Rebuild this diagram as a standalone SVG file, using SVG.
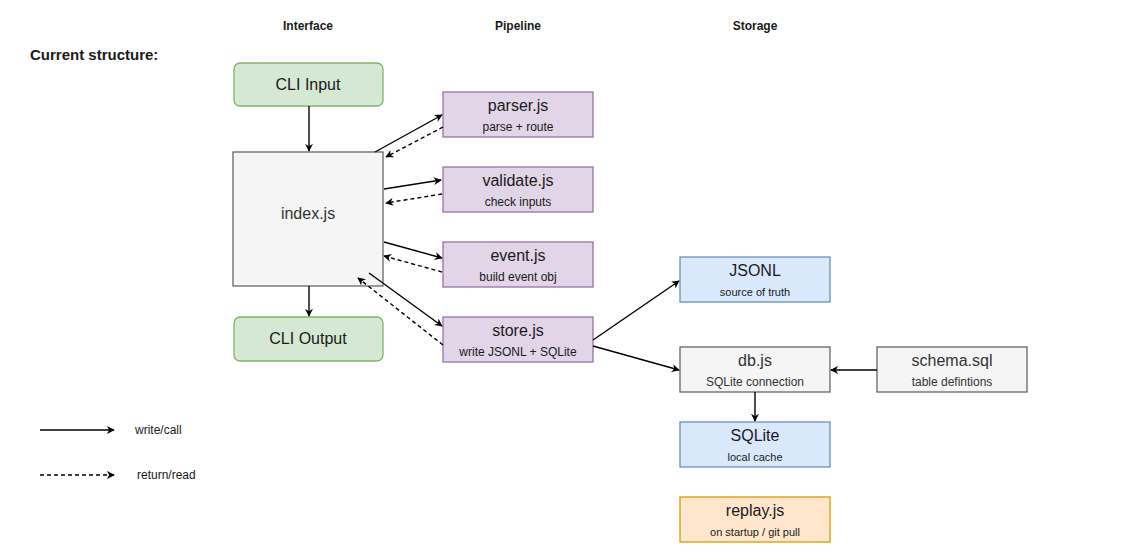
<svg xmlns="http://www.w3.org/2000/svg" width="1134" height="552" viewBox="0 0 1134 552">
<style>
text{font-family:"Liberation Sans",Arial,sans-serif;fill:#1a1a1a;text-anchor:middle}
.h{font-size:12px;font-weight:bold}
.t{font-size:16px}
.s{font-size:12px}
.g rect{fill:#d5e8d4;stroke:#82b366;stroke-width:1.3}
.p rect{fill:#e1d5e7;stroke:#9673a6;stroke-width:1.3}
.b rect{fill:#dae8fc;stroke:#6c8ebf;stroke-width:1.3}
.n rect{fill:#f5f5f5;stroke:#666;stroke-width:1.3}
.o rect{fill:#ffe6cc;stroke:#d79b00;stroke-width:1.3}
.c line{stroke:#000;stroke-width:1.4;marker-end:url(#a)}
.c .d{stroke-dasharray:4 3}
</style>
<defs><marker id="a" viewBox="0 0 10 10" refX="9" refY="5" markerWidth="8" markerHeight="8" orient="auto" markerUnits="userSpaceOnUse"><path d="M0,0 L10,5 L0,10 L3,5z" fill="#000"/></marker></defs>
<rect width="1134" height="552" fill="#fff"/>
<text class="h" x="308" y="30">Interface</text>
<text class="h" x="518" y="30">Pipeline</text>
<text class="h" x="755" y="30">Storage</text>
<text x="30" y="60" style="font-size:15px;font-weight:bold;text-anchor:start">Current structure:</text>
<g id="cli-input" class="g"><rect x="234" y="63" width="149" height="43" rx="6"/><text class="t" x="308" y="90">CLI Input</text></g>
<g id="index" class="n"><rect x="233" y="152" width="150" height="134"/><text class="t" x="308" y="219" style="fill:#333">index.js</text></g>
<g id="cli-output" class="g"><rect x="234" y="317" width="149" height="44" rx="6"/><text class="t" x="308" y="344">CLI Output</text></g>
<g id="parser" class="p"><rect x="443" y="92" width="150" height="45"/><text class="t" x="518" y="111">parser.js</text><text class="s" x="518" y="131">parse + route</text></g>
<g id="validate" class="p"><rect x="443" y="167" width="150" height="45"/><text class="t" x="518" y="186">validate.js</text><text class="s" x="518" y="206">check inputs</text></g>
<g id="event" class="p"><rect x="443" y="242" width="150" height="45"/><text class="t" x="518" y="261">event.js</text><text class="s" x="518" y="281">build event obj</text></g>
<g id="store" class="p"><rect x="443" y="317" width="150" height="45"/><text class="t" x="518" y="336">store.js</text><text class="s" x="518" y="356">write JSONL + SQLite</text></g>
<g id="jsonl" class="b"><rect x="680" y="257" width="150" height="45"/><text class="t" x="755" y="276">JSONL</text><text class="s" x="755" y="296" style="font-size:11px">source of truth</text></g>
<g id="db" class="n"><rect x="680" y="347" width="150" height="45"/><text class="t" x="755" y="366" style="fill:#333">db.js</text><text class="s" x="755" y="386" style="fill:#333">SQLite connection</text></g>
<g id="schema" class="n"><rect x="877" y="347" width="150" height="45"/><text class="t" x="952" y="366" style="fill:#333">schema.sql</text><text class="s" x="952" y="386" style="fill:#333">table defintions</text></g>
<g id="sqlite" class="b"><rect x="680" y="422" width="150" height="45"/><text class="t" x="755" y="441">SQLite</text><text class="s" x="755" y="461" style="font-size:11px">local cache</text></g>
<g id="replay" class="o"><rect x="680" y="497" width="150" height="45"/><text class="t" x="755" y="516">replay.js</text><text class="s" x="755" y="536" style="font-size:11px">on startup / git pull</text></g>
<g id="connectors" class="c">
<line x1="309" y1="106" x2="309" y2="151"/>
<line x1="309" y1="286" x2="309" y2="316"/>
<line x1="375" y1="152" x2="442" y2="115"/>
<line class="d" x1="443" y1="127" x2="386" y2="157"/>
<line x1="384" y1="189" x2="441" y2="180"/>
<line class="d" x1="442" y1="194" x2="386" y2="203"/>
<line x1="384" y1="242" x2="442" y2="258"/>
<line class="d" x1="442" y1="272" x2="384" y2="256"/>
<line x1="369" y1="273" x2="442" y2="326"/>
<line class="d" x1="443" y1="345" x2="358" y2="278"/>
<line x1="593" y1="340" x2="679" y2="281"/>
<line x1="593" y1="346" x2="679" y2="370"/>
<line x1="877" y1="370" x2="831" y2="370"/>
<line x1="755" y1="392" x2="755" y2="421"/>
<line x1="40" y1="430" x2="114" y2="430"/>
<line class="d" x1="40" y1="475" x2="114" y2="475"/>
</g>
<text class="s" x="135" y="434" style="text-anchor:start">write/call</text>
<text class="s" x="137" y="479" style="text-anchor:start">return/read</text>
</svg>
